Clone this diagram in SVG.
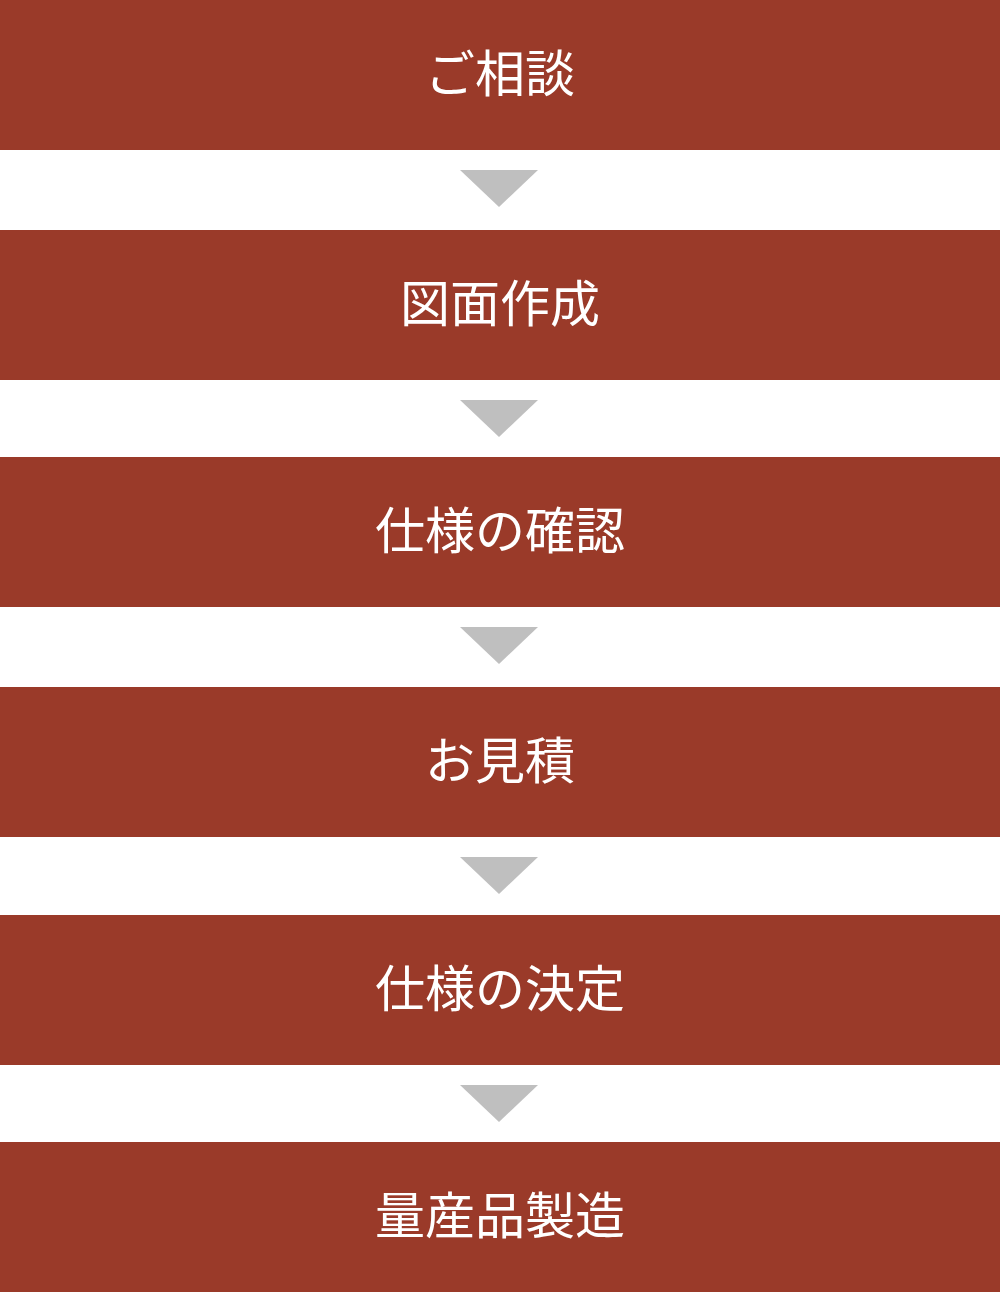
<svg xmlns="http://www.w3.org/2000/svg" width="1000" height="1292" viewBox="0 0 1000 1292">
<style>
.box{fill:#9A3A29}
.lbl{fill:#ffffff;font-family:"Noto Sans CJK JP","Noto Sans",sans-serif;font-size:50px;text-anchor:middle;dominant-baseline:central}
.arr{fill:#BFBFBF}
</style>
<rect width="1000" height="1292" fill="#ffffff"/>
<g id="n1"><rect class="box" x="0" y="0" width="1000" height="150"/><text class="lbl" x="500" y="70">ご相談</text></g>
<g id="n2"><rect class="box" x="0" y="230" width="1000" height="150"/><text class="lbl" x="500" y="300">図面作成</text></g>
<g id="n3"><rect class="box" x="0" y="457" width="1000" height="150"/><text class="lbl" x="500" y="527">仕様の確認</text></g>
<g id="n4"><rect class="box" x="0" y="687" width="1000" height="150"/><text class="lbl" x="500" y="757">お見積</text></g>
<g id="n5"><rect class="box" x="0" y="915" width="1000" height="150"/><text class="lbl" x="500" y="985">仕様の決定</text></g>
<g id="n6"><rect class="box" x="0" y="1142" width="1000" height="150"/><text class="lbl" x="500" y="1212">量産品製造</text></g>
<g id="connectors">
<polygon class="arr" points="460,170 538,170 499,207"/>
<polygon class="arr" points="460,400 538,400 499,437"/>
<polygon class="arr" points="460,627 538,627 499,664"/>
<polygon class="arr" points="460,857 538,857 499,894"/>
<polygon class="arr" points="460,1085 538,1085 499,1122"/>
</g>
</svg>
